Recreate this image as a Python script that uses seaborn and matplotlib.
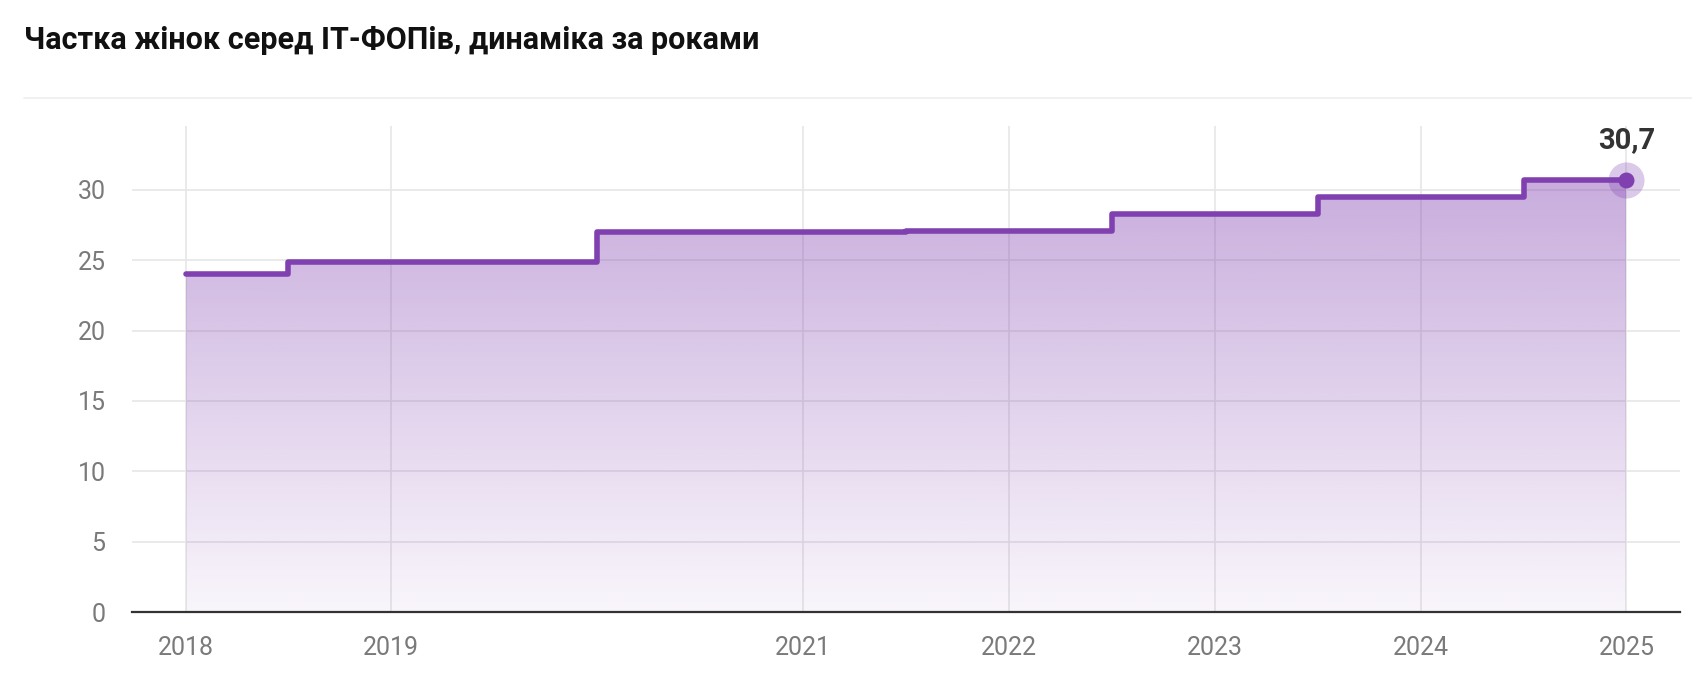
import numpy as np
import pandas as pd
import seaborn as sns
import matplotlib.pyplot as plt
from matplotlib.colors import to_rgb

# data
years = [2018, 2019, 2021, 2022, 2023, 2024, 2025]
share = [24.0, 24.9, 27.0, 27.1, 28.3, 29.5, 30.7]
y_ticks = [0, 5, 10, 15, 20, 25, 30]
title = 'Частка жінок серед IT-ФОПів, динаміка за роками'
last_label = '30,7'

df = pd.DataFrame({'year': years, 'share': share})

purple = '#8040B0'
sns.set_theme(style='white')
plt.rcParams['font.family'] = ['Roboto', 'DejaVu Sans']

fig = plt.figure(figsize=(16.92, 6.94), dpi=100)
ax = fig.add_axes([132 / 1692, 1 - 612 / 694, (1680 - 132) / 1692, (612 - 126) / 694])

# gradient area under the step line
fill = ax.fill_between(df['year'], df['share'], 0, step='mid', color='none', lw=0)
top = max(share)
rgb = to_rgb(purple)
alpha = np.linspace(0.05, 0.43, 256)[:, None]
grad = np.zeros((256, 1, 4))
grad[..., 0], grad[..., 1], grad[..., 2] = rgb
grad[..., 3] = alpha
img = ax.imshow(grad, origin='lower', aspect='auto',
                extent=[years[0], years[-1], 0, top], zorder=1)
img.set_clip_path(fill.get_paths()[0], transform=ax.transData)

sns.lineplot(data=df, x='year', y='share', ax=ax, color=purple, lw=4,
             drawstyle='steps-mid', zorder=3)

# last point marker with halo
ax.plot(years[-1], share[-1], 'o', ms=26, color=purple, alpha=0.28, mec='none', zorder=4)
ax.plot(years[-1], share[-1], 'o', ms=11.5, color=purple, mec='none', zorder=5)
ax.annotate(last_label, (years[-1], share[-1]), xytext=(0, 19), textcoords='offset points',
            ha='center', va='bottom', fontsize=21, fontweight='bold', color='#333333')

ax.set_xlim(2017.74, 2025.26)
ax.set_ylim(0, 34.54)
ax.set_xticks(years)
ax.set_xticklabels([str(y) for y in years])
ax.set_yticks(y_ticks)
ax.tick_params(axis='both', length=0, labelsize=18, labelcolor='#7a7a7a')
ax.tick_params(axis='x', pad=17)
ax.tick_params(axis='y', pad=19)
ax.grid(True, color='#e6e6e6', lw=1.2)
ax.set_axisbelow(True)
ax.set_xlabel('')
ax.set_ylabel('')
for s in ['top', 'right', 'left']:
    ax.spines[s].set_visible(False)
ax.spines['bottom'].set_color('#333333')
ax.spines['bottom'].set_linewidth(1.6)

fig.text(24 / 1692, 1 - 40 / 694, title, fontsize=22, fontweight='bold',
         color='#111111', va='center', ha='left')
fig.add_artist(plt.Line2D([24 / 1692, 1], [1 - 98 / 694] * 2, color='#eeeeee', lw=1.2))

fig.savefig('out.png', dpi=100)
